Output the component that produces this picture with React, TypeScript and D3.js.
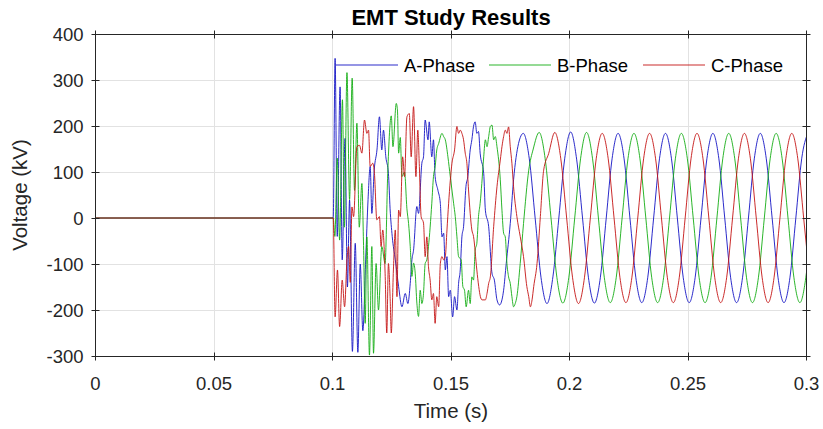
import React from "react";
import * as d3 from "d3";

const WIDTH = 823;
const HEIGHT = 429;

const titleText = "EMT Study Results";
const xLabelText = "Time (s)";
const yLabelText = "Voltage (kV)";

const xTicks = [0, 0.05, 0.1, 0.15, 0.2, 0.25, 0.3];
const xTickLabels = ["0", "0.05", "0.1", "0.15", "0.2", "0.25", "0.3"];
const yTicks = [-300, -200, -100, 0, 100, 200, 300, 400];
const yTickLabels = ["-300", "-200", "-100", "0", "100", "200", "300", "400"];

const seriesNames = ["A-Phase", "B-Phase", "C-Phase"];
const seriesColors = ["#1414c4", "#14ad14", "#c41414"];

// [time (s), voltage (kV)]
const phaseA: [number, number][] = [
  [0, 0], [0.1003, 0], [0.1011, 347], [0.102, -40], [0.1032, 285], [0.1041, -91], [0.1053, 173],
  [0.1063, -150], [0.1072, 39], [0.1084, -290], [0.1096, -55], [0.1107, -292], [0.1117, -100],
  [0.1128, -245], [0.114, -91], [0.115, 40], [0.1159, 112], [0.1166, 10], [0.1176, 104], [0.1188, 150],
  [0.1198, 220], [0.1208, 148], [0.1215, 191], [0.1225, 133], [0.1236, 97], [0.1243, 20], [0.1252, -40],
  [0.1265, -91], [0.1279, -149], [0.1293, -193], [0.1307, -164], [0.1318, -186], [0.1328, -142],
  [0.1335, -91], [0.1342, -70], [0.1356, 25], [0.1363, 10], [0.1377, 119], [0.1384, 133], [0.1391, 213],
  [0.1403, 170], [0.1408, 209], [0.1419, 133], [0.1426, 170], [0.1433, 90], [0.1445, 60], [0.1455, 32],
  [0.1462, -41], [0.1469, -33], [0.1476, -113], [0.1483, -84], [0.149, -171], [0.1497, -157],
  [0.1507, -215], [0.1515, -171], [0.1525, -200], [0.1532, -142], [0.1539, -113], [0.1546, -41],
  [0.1553, -19], [0.1563, 68], [0.1571, 90], [0.1581, 148], [0.1588, 170], [0.1595, 199], [0.1602, 209],
  [0.1609, 184], [0.1616, 188], [0.1623, 141], [0.1638, 97], [0.1645, 17], [0.1659, -19], [0.1673, -120],
  [0.1683, -135], [0.1694, -178], [0.1705, -189], [0.1715, -178], [0.1722, -157], [0.1733, -99],
  [0.175, -12], [0.1764, 83], [0.1785, 162], [0.1805, 184], [0.183, 130], [0.1855, 0], [0.188, -130],
  [0.1905, -186], [0.193, -128], [0.1955, 0], [0.198, 130], [0.2005, 187], [0.203, 128], [0.2055, 0],
  [0.208, -130], [0.2105, -185], [0.213, -130], [0.2155, 0], [0.218, 130], [0.2205, 184], [0.223, 130],
  [0.2255, 0], [0.228, -130], [0.2305, -184], [0.233, -130], [0.2355, 0], [0.238, 130], [0.2405, 184],
  [0.243, 130], [0.2455, 0], [0.248, -130], [0.2505, -184], [0.253, -130], [0.2555, 0], [0.258, 130],
  [0.2605, 184], [0.263, 130], [0.2655, 0], [0.268, -130], [0.2705, -184], [0.273, -130], [0.2755, 0],
  [0.278, 130], [0.2805, 184], [0.283, 130], [0.2855, 0], [0.288, -130], [0.2905, -184], [0.293, -130],
  [0.2955, 0], [0.298, 130], [0.3005, 184],
];

const phaseB: [number, number][] = [
  [0, 0], [0.1003, 0], [0.101, -40], [0.102, 130], [0.103, -48], [0.1042, 257], [0.105, -20],
  [0.1061, 316], [0.1072, 40], [0.1083, 304], [0.1093, 60], [0.1103, 206], [0.1113, -20], [0.1124, 75],
  [0.1131, -60], [0.1138, -229], [0.1145, -41], [0.1156, -298], [0.1166, -62], [0.1173, -294],
  [0.1184, -99], [0.1194, -200], [0.1208, -62], [0.1222, -99], [0.1233, 97], [0.1248, 222], [0.1255, 155],
  [0.1269, 249], [0.1274, 235], [0.1279, 141], [0.1286, 175], [0.1293, 90], [0.1304, 100], [0.1314, 20],
  [0.1321, -12], [0.1328, -62], [0.1335, -127], [0.1342, -98], [0.1349, -120], [0.1356, -185],
  [0.1363, -214], [0.137, -157], [0.1377, -186], [0.1384, -164], [0.1391, -99], [0.1398, -91],
  [0.1405, -62], [0.1419, 32], [0.1426, 90], [0.1433, 111], [0.144, 148], [0.1448, 162], [0.1462, 184],
  [0.1469, 177], [0.1476, 170], [0.1487, 133], [0.1497, 90], [0.1511, 32], [0.1518, 3], [0.1525, -41],
  [0.1532, -84], [0.1543, -91], [0.155, -149], [0.1557, -157], [0.1564, -193], [0.1574, -157],
  [0.1581, -186], [0.1588, -128], [0.1595, -135], [0.1602, -70], [0.1609, -55], [0.1616, 3], [0.1623, 32],
  [0.163, 75], [0.1638, 133], [0.1645, 170], [0.1652, 155], [0.1659, 177], [0.1666, 199], [0.1673, 202],
  [0.168, 170], [0.1687, 177], [0.1694, 155], [0.1708, 83], [0.1715, 17], [0.1722, -33], [0.1729, -41],
  [0.1736, -99], [0.1743, -128], [0.175, -142], [0.1757, -171], [0.1764, -193], [0.1771, -186],
  [0.1778, -171], [0.1792, -99], [0.1806, -12], [0.1828, 104], [0.1847, 150], [0.1872, 186],
  [0.1897, 130], [0.1922, 0], [0.1947, -130], [0.1972, -185], [0.1997, -130], [0.2022, 0], [0.2047, 130],
  [0.2072, 186], [0.2097, 130], [0.2122, 0], [0.2147, -130], [0.2172, -184], [0.2197, -130], [0.2222, 0],
  [0.2247, 130], [0.2272, 184], [0.2297, 130], [0.2322, 0], [0.2347, -130], [0.2372, -184], [0.2397, -130],
  [0.2422, 0], [0.2447, 130], [0.2472, 184], [0.2497, 130], [0.2522, 0], [0.2547, -130], [0.2572, -184],
  [0.2597, -130], [0.2622, 0], [0.2647, 130], [0.2672, 184], [0.2697, 130], [0.2722, 0], [0.2747, -130],
  [0.2772, -184], [0.2797, -130], [0.2822, 0], [0.2847, 130], [0.2872, 184], [0.2897, 130], [0.2922, 0],
  [0.2947, -130], [0.2972, -184], [0.2997, -130], [0.3022, 0],
];

const phaseC: [number, number][] = [
  [0, 0], [0.1003, 0], [0.1011, -215], [0.1021, -113], [0.103, -236], [0.1041, -135], [0.1051, -193],
  [0.1061, -91], [0.1068, -62], [0.1075, -140], [0.1082, 24], [0.1089, 3], [0.1103, 155], [0.1114, 158],
  [0.1124, 141], [0.1135, 213], [0.1145, 184], [0.1152, 191], [0.1159, 112], [0.117, 119], [0.1177, 97],
  [0.1187, -4], [0.1198, 3], [0.1205, -62], [0.1212, -26], [0.1222, -120], [0.1229, -250], [0.1236, -99],
  [0.1243, -171], [0.1248, -250], [0.1257, -113], [0.1265, -26], [0.1272, -171], [0.1279, 17],
  [0.1286, 3], [0.1296, 133], [0.1304, 90], [0.1314, 220], [0.1324, 227], [0.1332, 133], [0.1342, 242],
  [0.1352, 90], [0.136, 191], [0.1366, 119], [0.1374, 3], [0.1384, -11], [0.1391, -84], [0.1398, -41],
  [0.1405, -106], [0.1412, -135], [0.1419, -178], [0.1426, -164], [0.1433, -229], [0.144, -171],
  [0.1448, -193], [0.1455, -99], [0.1462, -84], [0.1469, -91], [0.1476, -84], [0.1483, -26], [0.149, 32],
  [0.1504, 119], [0.1515, 148], [0.1525, 199], [0.1532, 184], [0.1539, 191], [0.1546, 184], [0.1553, 170],
  [0.156, 141], [0.1567, 119], [0.1574, 61], [0.1588, -26], [0.1595, -40], [0.1609, -113], [0.1617, -149],
  [0.1624, -171], [0.1631, -178], [0.1645, -178], [0.1652, -164], [0.1659, -142], [0.1666, -128],
  [0.168, -19], [0.1694, 68], [0.1708, 126], [0.1715, 155], [0.1722, 177], [0.1729, 191], [0.1736, 184],
  [0.1743, 198], [0.175, 155], [0.1757, 119], [0.1764, 68], [0.1778, 3], [0.1792, -40], [0.1806, -84],
  [0.182, -149], [0.1828, -171], [0.1835, -193], [0.1842, -178], [0.1849, -149], [0.1863, -99],
  [0.1877, 3], [0.1891, 104], [0.1912, 140], [0.1938, 186], [0.1963, 130], [0.1988, 0], [0.2013, -130],
  [0.2038, -186], [0.2063, -130], [0.2088, 0], [0.2113, 130], [0.2138, 184], [0.2163, 130], [0.2188, 0],
  [0.2213, -130], [0.2238, -184], [0.2263, -130], [0.2288, 0], [0.2313, 130], [0.2338, 184], [0.2363, 130],
  [0.2388, 0], [0.2413, -130], [0.2438, -184], [0.2463, -130], [0.2488, 0], [0.2513, 130], [0.2538, 184],
  [0.2563, 130], [0.2588, 0], [0.2613, -130], [0.2638, -184], [0.2663, -130], [0.2688, 0], [0.2713, 130],
  [0.2738, 184], [0.2763, 130], [0.2788, 0], [0.2813, -130], [0.2838, -184], [0.2863, -130], [0.2888, 0],
  [0.2913, 130], [0.2938, 184], [0.2963, 130], [0.2988, 0], [0.3013, -130],
];

const seriesData = [phaseA, phaseB, phaseC];

const FONT = "'Liberation Sans', Arial, Helvetica, sans-serif";
const AXIS_COLOR = "#262626";

export default function App() {
  const x = d3.scaleLinear().domain([0, 0.3]).range([95.5, 806.5]);
  const y = d3.scaleLinear().domain([-300, 400]).range([356, 34]);
  const line = d3
    .line<[number, number]>()
    .x((d) => x(d[0]))
    .y((d) => y(d[1]))
    .curve(d3.curveMonotoneX);

  const [x0, x1] = x.range();
  const [yB, yT] = y.range();
  const crisp = (v: number) => Math.round(v - 0.5) + 0.5;
  const L = crisp(x0);
  const R = crisp(x1);
  const T = crisp(yT);
  const B = crisp(yB);
  const tk = 4;

  const legendX = [336, 489, 643];

  return (
    <div style={{ position: "absolute", left: 0, top: 0 }}>
      <svg width={WIDTH} height={HEIGHT} style={{ display: "block", background: "#fff" }}>
        <defs>
          <clipPath id="plotClip">
            <rect x={x0} y={yT} width={x1 - x0} height={yB - yT} />
          </clipPath>
        </defs>
        {/* grid */}
        <g stroke="#e2e2e2" strokeWidth={1}>
          {xTicks.map((t) => (
            <line key={"gx" + t} x1={crisp(x(t))} x2={crisp(x(t))} y1={T} y2={B} />
          ))}
          {yTicks.map((v) => (
            <line key={"gy" + v} x1={L} x2={R} y1={crisp(y(v))} y2={crisp(y(v))} />
          ))}
        </g>
        {/* data */}
        <g clipPath="url(#plotClip)" fill="none" strokeWidth={1} strokeLinejoin="round">
          {seriesData.map((d, i) => (
            <path key={seriesNames[i]} d={line(d) || ""} stroke={seriesColors[i]} strokeOpacity={0.9} />
          ))}
        </g>
        {/* axes box */}
        <g stroke={AXIS_COLOR} strokeWidth={1} fill="none">
          <rect x={L} y={T} width={R - L} height={B - T} />
          {xTicks.map((t) => (
            <g key={"tx" + t}>
              <line x1={crisp(x(t))} x2={crisp(x(t))} y1={B - tk} y2={B + tk} />
              <line x1={crisp(x(t))} x2={crisp(x(t))} y1={T - tk} y2={T + tk} />
            </g>
          ))}
          {yTicks.map((v) => (
            <g key={"ty" + v}>
              <line x1={L - tk} x2={L + tk} y1={crisp(y(v))} y2={crisp(y(v))} />
              <line x1={R - tk} x2={R + tk} y1={crisp(y(v))} y2={crisp(y(v))} />
            </g>
          ))}
        </g>
        {/* tick labels */}
        <g fontFamily={FONT} fontSize={18.5} fill={AXIS_COLOR}>
          {xTicks.map((t, i) => (
            <text key={"lx" + t} x={x(t)} y={390} textAnchor="middle">
              {xTickLabels[i]}
            </text>
          ))}
          {yTicks.map((v, i) => (
            <text key={"ly" + v} x={L - 12} y={y(v) + 6.5} textAnchor="end">
              {yTickLabels[i]}
            </text>
          ))}
        </g>
        {/* axis labels and title */}
        <text x={(x0 + x1) / 2} y={418} textAnchor="middle" fontFamily={FONT} fontSize={20.5} fill={AXIS_COLOR}>
          {xLabelText}
        </text>
        <text
          transform={`translate(27,${(yT + yB) / 2}) rotate(-90)`}
          textAnchor="middle"
          fontFamily={FONT}
          fontSize={20.5}
          fill={AXIS_COLOR}
        >
          {yLabelText}
        </text>
        <text x={(x0 + x1) / 2} y={25} textAnchor="middle" fontFamily={FONT} fontSize={22} fontWeight="bold" fill="#000">
          {titleText}
        </text>
        {/* legend */}
        <g fontFamily={FONT} fontSize={18.5} fill="#000">
          {seriesNames.map((name, i) => (
            <g key={"lg" + name}>
              <line x1={legendX[i]} x2={legendX[i] + 62} y1={65} y2={65} stroke={seriesColors[i]} strokeWidth={1} strokeOpacity={0.9} />
              <text x={legendX[i] + 68} y={71.5}>
                {name}
              </text>
            </g>
          ))}
        </g>
      </svg>
    </div>
  );
}
